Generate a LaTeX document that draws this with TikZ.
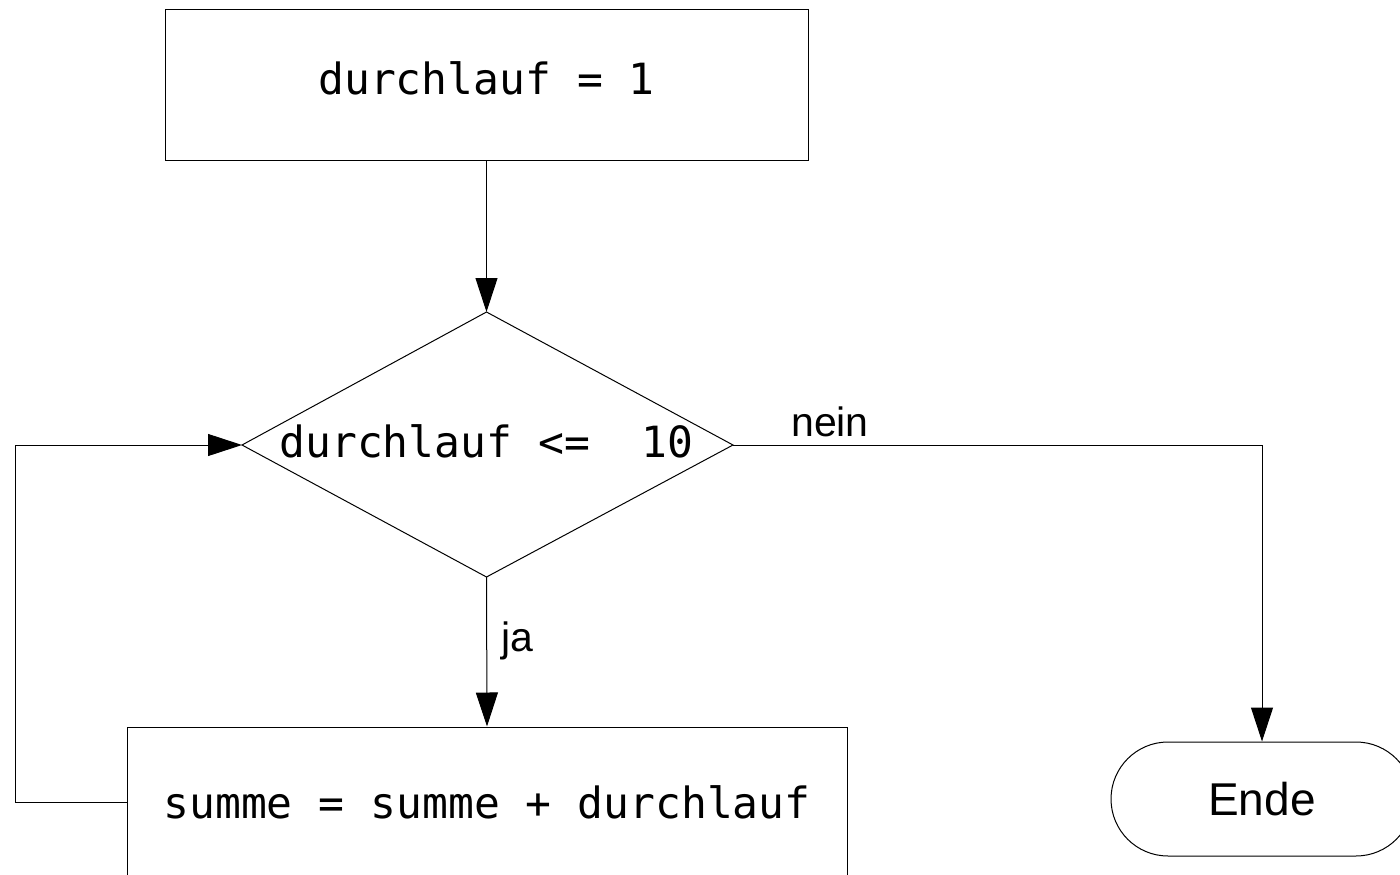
\documentclass[tikz,border=0pt]{standalone}
\usepackage{fontspec}
\setmainfont{Liberation Sans}
\newfontfamily\monof{DejaVu Sans Mono}
\usetikzlibrary{arrows.meta}
\begin{document}
\begin{tikzpicture}[x=1pt,y=-1pt,
  box/.style={draw,line width=1pt,rectangle,inner sep=0pt,font=\monof\fontsize{43}{50}\selectfont},
  term/.style={draw,line width=1pt,rectangle,rounded corners=57pt,inner sep=0pt,font=\fontsize{46}{52}\selectfont},
  lbl/.style={inner sep=0pt,font=\fontsize{41}{48}\selectfont},
  flow/.style={line width=1pt,-{Triangle[length=34pt,width=22pt]}}]
\clip (0,0) rectangle (1400,875);
\fill[white] (0,0) rectangle (1400,875);
\node[box,minimum width=643pt,minimum height=150pt,text depth=14pt] (start) at (486.5,85) {durchlauf = 1};
\coordinate (dt) at (486.5,312);
\coordinate (dl) at (242,445);
\coordinate (dr) at (733,445);
\coordinate (db) at (486.5,577);
\draw[line width=1pt] (dt) -- (dr) -- (db) -- (dl) -- cycle;
\node[inner sep=0pt,font=\monof\fontsize{43}{50}\selectfont] (cond) at (486.5,441) {durchlauf <=\ \ 10};
\node[box,minimum width=720pt,minimum height=150pt] (sum) at (487,802) {summe = summe + durchlauf};
\node[term,minimum width=302pt,minimum height=114pt] (ende) at (1262,799) {Ende};
\coordinate (lp) at (15,802);
\draw[flow] (start.south) -- (dt);
\draw[flow] (db) -- (sum.north);
\draw[flow] (dr) -| (ende.north);
\draw[flow] (sum.west) -- (lp) |- (dl);
\node[lbl] (nein) at (830,422) {nein};
\node[lbl] (ja) at (517,641) {ja};
\end{tikzpicture}
\end{document}
